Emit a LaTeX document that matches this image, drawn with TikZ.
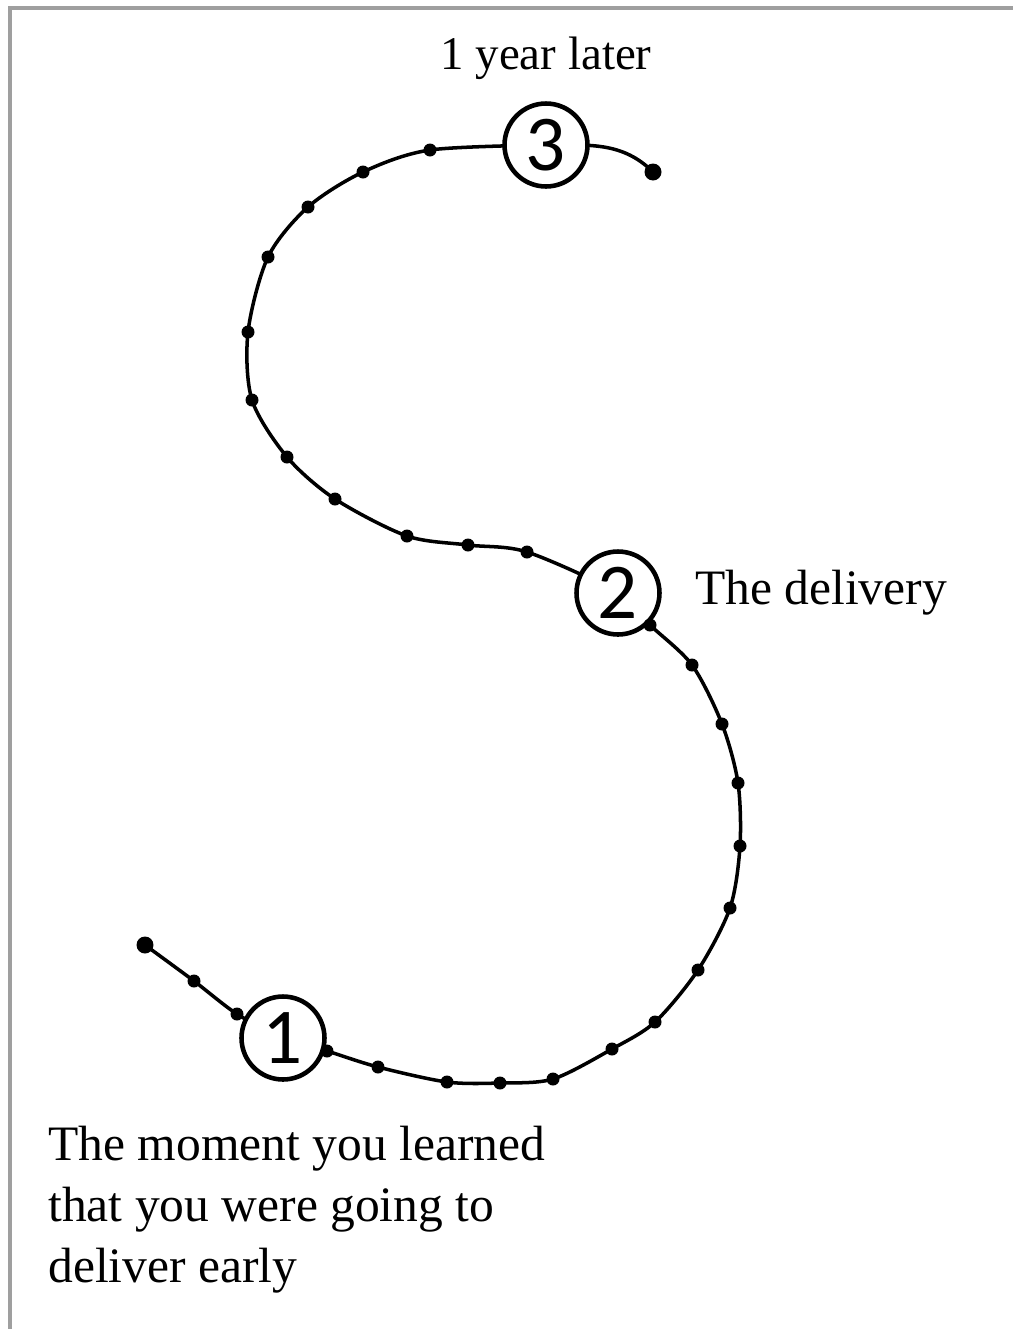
\documentclass[tikz,border=0pt]{standalone}
\usepackage{fontspec}
\setmainfont{Liberation Serif}
\newfontfamily\digitfont{Carlito}
\usetikzlibrary{positioning, backgrounds}

\begin{document}
\begin{tikzpicture}[
    x=0.02cm, y=-0.02cm,
    stage/.style={circle, draw, line width=2.6pt, fill=white, minimum size=1.66cm, inner sep=0pt, font=\digitfont\fontsize{45}{45}\selectfont},
    bead/.style={circle, fill, inner sep=0pt, minimum size=0.26cm},
    endbead/.style={bead, minimum size=0.34cm},
    caption/.style={inner sep=0pt, font=\fontsize{28.2}{34.7}\selectfont},
    track/.style={line width=2pt, line join=round}
  ]
  \useasboundingbox (0,0) rectangle (1013,1329);

  % Frame
  \draw[gray!75, line width=2pt] (10,1329) -- (10,8) -- (1013,8);

  % Milestones
  \node[stage] (n1) at (283,1038) {1};
  \node[stage] (n2) at (618,593) {2};
  \node[stage] (n3) at (546,145) {3};

  % Beads along the path
  \node[endbead] (start) at (145,945) {};
  \node[endbead] (finish) at (653,172) {};
  \foreach \x/\y [count=\i] in {194/981, 237/1014, 327/1051, 378/1067, 447/1082, 500/1083,
      553/1079, 612/1049, 655/1022, 698/970, 730/908, 740/846, 738/783, 722/724, 692/665,
      650/625, 527/552, 468/545, 407/536, 335/499, 287/457, 252/400, 248/332, 268/257,
      308/207, 363/172, 430/150}
    \node[bead] (b\i) at (\x,\y) {};

  % The S-shaped path
  \begin{scope}[on background layer]
    \draw[track] plot[smooth] coordinates {(start.center) (b1.center) (b2.center) (n1.center)
      (b3.center) (b4.center) (b5.center) (b6.center) (b7.center) (b8.center) (b9.center)
      (b10.center) (b11.center) (b12.center) (b13.center) (b14.center) (b15.center) (b16.center)
      (n2.center) (b17.center) (b18.center) (b19.center) (b20.center) (b21.center) (b22.center)
      (b23.center) (b24.center) (b25.center) (b26.center) (b27.center) (n3.center)};
    \draw[track] (n3.center) to[out=0, in=135] (finish.center);
  \end{scope}

  % Labels
  \node[caption, font=\fontsize{26.7}{32}\selectfont, above=0.42cm of n3] (later) {1 year later};
  \node[caption, right=0.66cm of n2] (delivery) {The delivery};
  \node[caption, align=left, anchor=north west] (moment) at (48,1126)
    {The moment you learned\\that you were going to\\deliver early};
\end{tikzpicture}
\end{document}
